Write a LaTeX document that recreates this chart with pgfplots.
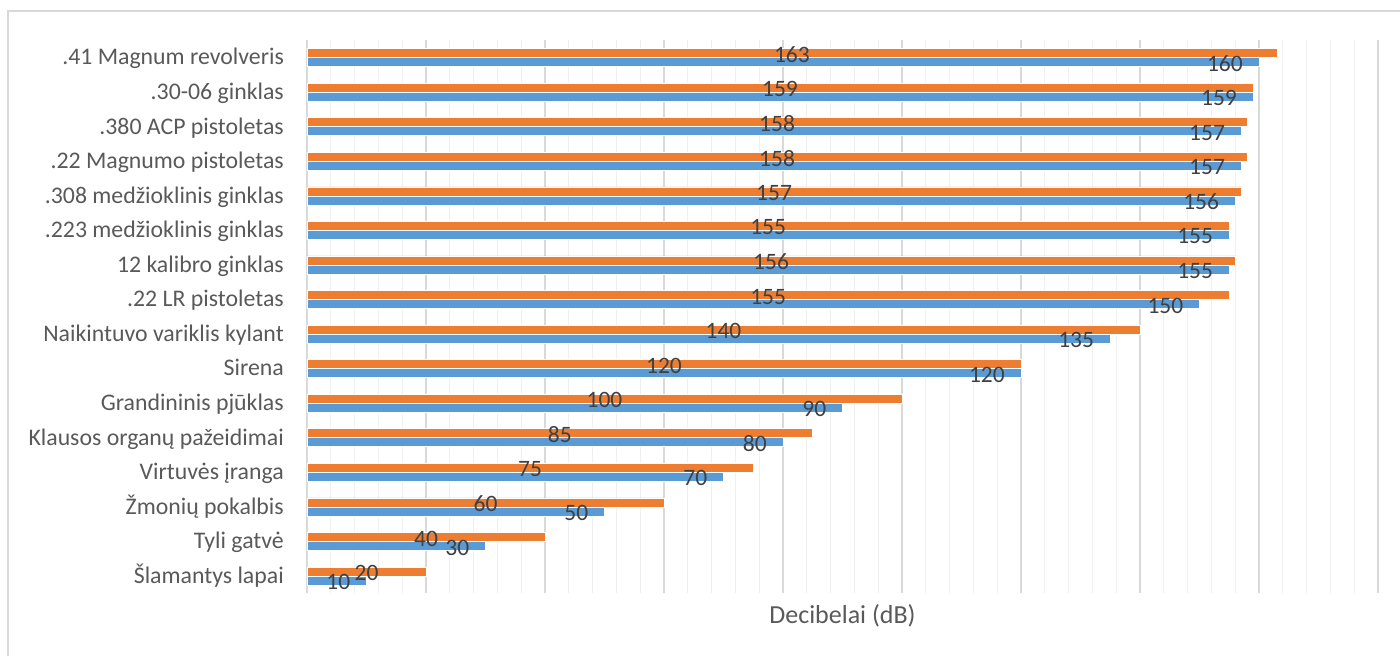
\documentclass[border=0pt]{standalone}
\usepackage{pgfplots}
\pgfplotsset{compat=1.18}
\usepackage{pgfplotstable}
\usepackage{fontspec}
\setmainfont{Carlito}

\definecolor{barorange}{HTML}{ED7D31}
\definecolor{barblue}{HTML}{5B9BD5}
\definecolor{labelgrey}{HTML}{595959}
\definecolor{valuegrey}{HTML}{404040}
\definecolor{gridmajor}{HTML}{D9D9D9}
\definecolor{gridminor}{HTML}{F0F0F0}

\newcommand\chartfont{\fontsize{23.8}{28}\selectfont}
\newcommand\valuefont{\fontsize{23.5}{28}\selectfont}
\newcommand\titlefont{\fontsize{26}{30}\selectfont}

% idx: row from the top; orange and blue: the two sound levels in dB
\pgfplotstableread{
idx orange blue
0  163 160
1  159 159
2  158 157
3  158 157
4  157 156
5  155 155
6  156 155
7  155 150
8  140 135
9  120 120
10 100 90
11 85  80
12 75  70
13 60  50
14 40  30
15 20  10
}\noise

\begin{document}
\begin{tikzpicture}
\path[use as bounding box] (0pt,0pt) rectangle (1400pt,656pt);
\draw[gridmajor, line width=1.3pt] (8pt,0pt) -- (8pt,645pt) -- (1400pt,645pt);
\begin{axis}[
  at={(307pt,62.7pt)}, anchor=south west,
  scale only axis, width=1071pt, height=553pt,
  xmin=0, xmax=180, ymin=-0.5, ymax=15.5, y dir=reverse,
  xtick={0,20,...,180}, minor x tick num=4, xticklabels={},
  ytick={0,...,15},
  yticklabels={.41 Magnum revolveris, .30-06 ginklas, .380 ACP pistoletas,
    .22 Magnumo pistoletas, .308 medžioklinis ginklas, .223 medžioklinis ginklas,
    12 kalibro ginklas, .22 LR pistoletas, Naikintuvo variklis kylant, Sirena,
    Grandininis pjūklas, Klausos organų pažeidimai, Virtuvės įranga,
    Žmonių pokalbis, Tyli gatvė, Šlamantys lapai},
  major tick length=0pt, minor tick length=0pt,
  tick style={draw=none},
  xmajorgrids, xminorgrids,
  major grid style={gridmajor, line width=1.5pt},
  minor grid style={gridminor, line width=1.2pt},
  axis line style={draw=none},
  /pgf/number format/assume math mode=true,
  yticklabel style={font=\chartfont, text=labelgrey, anchor=base east,
    inner sep=0pt, xshift=-23pt, yshift=-7.3pt},
  xlabel={Decibelai (dB)},
  xlabel style={font=\titlefont, text=labelgrey, at={(axis description cs:0.5,0)},
    anchor=north, inner sep=0pt, yshift=-10.5pt},
  clip=false,
]
\addplot[xbar, bar width=9pt, bar shift=4.5pt, fill=barorange, draw=white,
  line width=0.6pt] table[x=orange, y=idx]{\noise};
\addplot[xbar, bar width=9pt, bar shift=-4.5pt, fill=barblue, draw=white,
  line width=0.6pt] table[x=blue, y=idx]{\noise};
% orange values sit at the middle of their bars
\addplot[draw=none, nodes near coords, point meta=explicit,
  every node near coord/.append style={font=\valuefont, text=valuegrey,
    anchor=center, inner sep=0pt, yshift=3pt}]
  table[x expr=\thisrow{orange}/2, y=idx, meta=orange]{\noise};
% blue values sit just inside the end of their bars
\addplot[draw=none, nodes near coords, point meta=explicit,
  every node near coord/.append style={font=\valuefont, text=valuegrey,
    anchor=east, inner sep=0pt, xshift=-16pt, yshift=-6pt}]
  table[x=blue, y=idx, meta=blue]{\noise};
\end{axis}
\end{tikzpicture}
\end{document}
